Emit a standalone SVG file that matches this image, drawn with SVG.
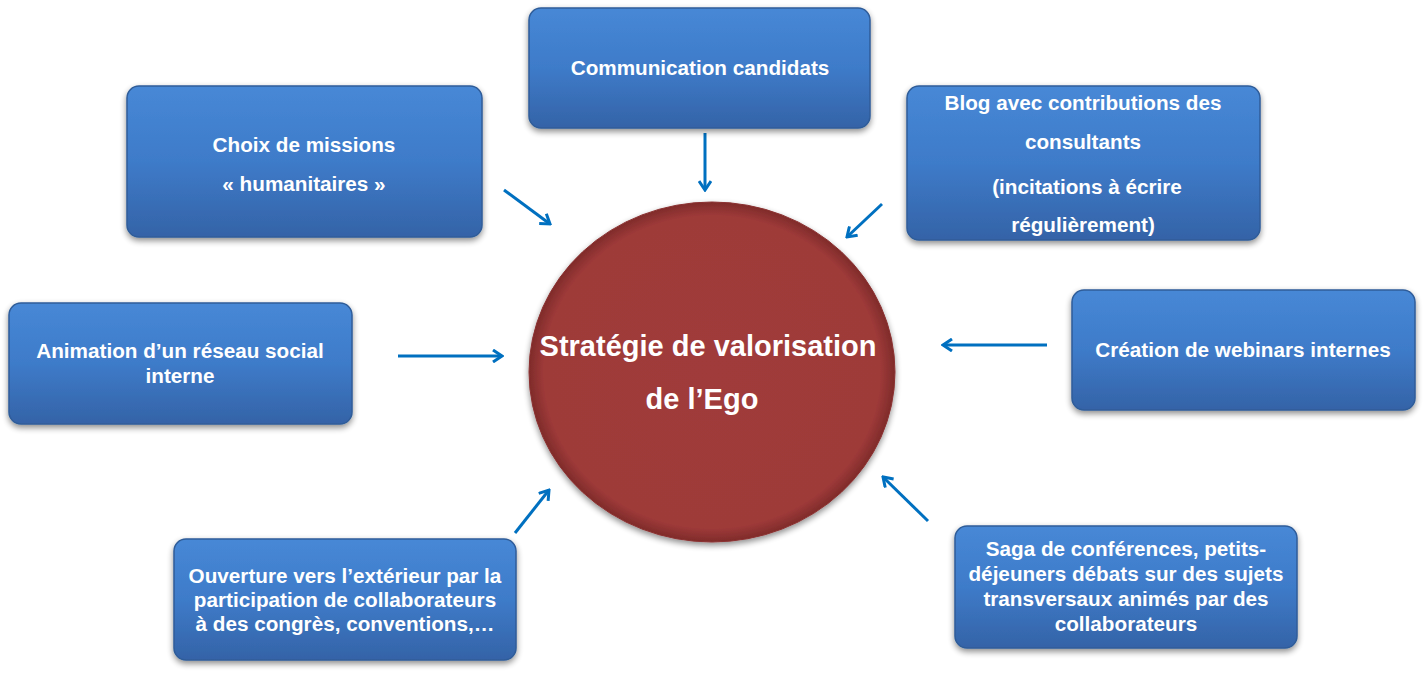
<svg xmlns="http://www.w3.org/2000/svg" width="1424" height="674" viewBox="0 0 1424 674">
<defs>
<linearGradient id="boxg" x1="0" y1="0" x2="0" y2="1">
<stop offset="0" stop-color="#4788d6"/>
<stop offset="0.5" stop-color="#3e7bc9"/>
<stop offset="1" stop-color="#3463a7"/>
</linearGradient>
<radialGradient id="circg" cx="0.5" cy="0.5" r="0.5">
<stop offset="0" stop-color="#a03b3a"/>
<stop offset="0.92" stop-color="#9e3a39"/>
<stop offset="1" stop-color="#7f2b2a"/>
</radialGradient>
<filter id="sh" x="-10%" y="-10%" width="120%" height="130%">
<feGaussianBlur in="SourceAlpha" stdDeviation="3"/>
<feOffset dx="0" dy="3" result="b"/>
<feComponentTransfer><feFuncA type="linear" slope="0.45"/></feComponentTransfer>
<feMerge><feMergeNode/><feMergeNode in="SourceGraphic"/></feMerge>
</filter>
<marker id="ah" markerWidth="12" markerHeight="14" refX="10" refY="7" orient="auto" markerUnits="userSpaceOnUse">
<path d="M1,1 L10,7 L1,13" fill="none" stroke="#0070c0" stroke-width="3"/>
</marker>
</defs>
<style>
.box{fill:url(#boxg);stroke:#2f5c99;stroke-width:1.5;filter:url(#sh)}
.t{font-family:"Liberation Sans",Arial,sans-serif;font-weight:bold;font-size:20.7px;fill:#fff;text-anchor:middle}
.ct{font-family:"Liberation Sans",Arial,sans-serif;font-weight:bold;font-size:29px;fill:#fff;text-anchor:middle}
.c{stroke:#0070c0;stroke-width:3;fill:none;marker-end:url(#ah)}
</style>
<rect width="1424" height="674" fill="#fff"/>
<g id="connectors">
<line class="c" x1="705" y1="133" x2="705" y2="190"/>
<line class="c" x1="504" y1="190" x2="550" y2="224"/>
<line class="c" x1="882" y1="204" x2="847" y2="237"/>
<line class="c" x1="398" y1="356" x2="502" y2="356"/>
<line class="c" x1="1047" y1="345" x2="943" y2="345"/>
<line class="c" x1="515" y1="533" x2="549" y2="490"/>
<line class="c" x1="928" y1="521" x2="883" y2="477"/>
</g>
<g id="center">
<ellipse cx="712" cy="372" rx="183" ry="170" fill="url(#circg)" stroke="#8a3131" stroke-width="1" filter="url(#sh)"/>
<text class="ct" x="708" y="356">Stratégie de valorisation</text>
<text class="ct" x="702" y="409">de l’Ego</text>
</g>
<g id="n-communication">
<rect class="box" x="529" y="8" width="341" height="120" rx="12"/>
<text class="t" x="700" y="75">Communication candidats</text>
</g>
<g id="n-choix">
<rect class="box" x="127" y="86" width="355" height="151" rx="12"/>
<text class="t" x="304" y="152">Choix de missions</text>
<text class="t" x="304" y="191">« humanitaires »</text>
</g>
<g id="n-blog">
<rect class="box" x="907" y="86" width="353" height="154" rx="12"/>
<text class="t" x="1083" y="110">Blog avec contributions des</text>
<text class="t" x="1083" y="149">consultants</text>
<text class="t" x="1087" y="194">(incitations à écrire</text>
<text class="t" x="1083" y="232">régulièrement)</text>
</g>
<g id="n-animation">
<rect class="box" x="9" y="303" width="343" height="121" rx="12"/>
<text class="t" x="180" y="358">Animation d’un réseau social</text>
<text class="t" x="180" y="383">interne</text>
</g>
<g id="n-webinars">
<rect class="box" x="1072" y="290" width="343" height="120" rx="12"/>
<text class="t" x="1243" y="357">Création de webinars internes</text>
</g>
<g id="n-ouverture">
<rect class="box" x="174" y="539" width="342" height="121" rx="12"/>
<text class="t" x="345" y="583">Ouverture vers l’extérieur par la</text>
<text class="t" x="345" y="607">participation de collaborateurs</text>
<text class="t" x="345" y="631">à des congrès, conventions,…</text>
</g>
<g id="n-saga">
<rect class="box" x="955" y="526" width="342" height="122" rx="12"/>
<text class="t" x="1126" y="556">Saga de conférences, petits-</text>
<text class="t" x="1126" y="581">déjeuners débats sur des sujets</text>
<text class="t" x="1126" y="606">transversaux animés par des</text>
<text class="t" x="1126" y="631">collaborateurs</text>
</g>
</svg>
